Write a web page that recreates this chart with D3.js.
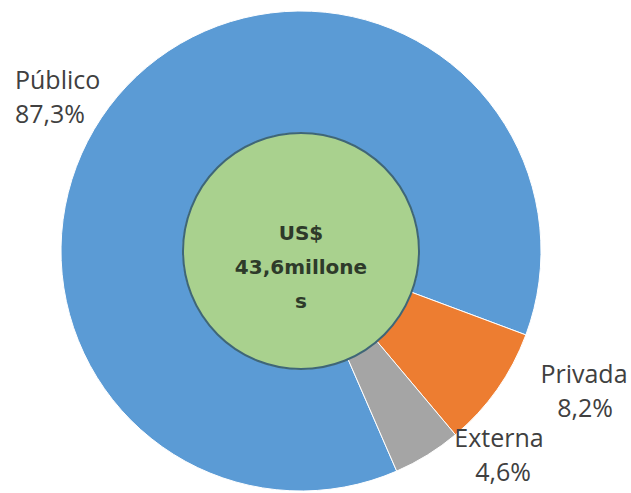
<!DOCTYPE html>
<html>
<head>
<meta charset="utf-8">
<script src="https://cdn.jsdelivr.net/npm/d3@7"></script>
<style>
  html, body { margin: 0; padding: 0; background: #ffffff; }
  svg { display: block; }
</style>
</head>
<body>
<svg id="chart" width="631" height="493"></svg>
<script>
// Financing sources (share of total, %)
const categories = ["Público", "Privada", "Externa"];
const shares = [87.3, 8.2, 4.6];
const colors = ["#5B9BD5", "#ED7D31", "#A5A5A5"];
const centerLines = ["US$", "43,6millone", "s"];

const width = 631, height = 493;
const cx = 301, cy = 251;
const outerR = 240, innerR = 118;
const startDeg = 156.5;

const svg = d3.select("#chart");
const g = svg.append("g").attr("transform", `translate(${cx},${cy})`);

const data = categories.map((c, i) => ({ name: c, value: shares[i], color: colors[i] }));

const pie = d3.pie()
  .value(d => d.value)
  .sort(null)
  .startAngle(startDeg * Math.PI / 180)
  .endAngle(startDeg * Math.PI / 180 + 2 * Math.PI);

const arc = d3.arc().innerRadius(innerR).outerRadius(outerR);

const arcs = pie(data);

g.selectAll("path.slice")
  .data(arcs)
  .join("path")
  .attr("class", "slice")
  .attr("d", arc)
  .attr("fill", d => d.data.color)
  .attr("stroke", "#ffffff")
  .attr("stroke-width", 1);

// Total in the hole
g.append("circle")
  .attr("r", innerR)
  .attr("fill", "#A9D18E")
  .attr("stroke", "#3F6677")
  .attr("stroke-width", 2);

const centerText = g.append("text")
  .attr("text-anchor", "middle")
  .attr("font-family", "DejaVu Sans, sans-serif")
  .attr("font-weight", "bold")
  .attr("font-size", 20)
  .attr("fill", "#2E3A2A");
centerLines.forEach((t, i) => {
  centerText.append("tspan").attr("x", 0).attr("y", -11 + i * 34).text(t);
});

// Slice labels: name on one line, share below
const fmt = v => v.toFixed(1).replace(".", ",") + "%";
const labelPos = [
  { dx: -286, dy: -162, anchor: "start", pctShift: 0 },
  { dx: 283, dy: 132, anchor: "middle", pctShift: 1 },
  { dx: 198, dy: 196, anchor: "middle", pctShift: 4 }
];

arcs.forEach((a, i) => {
  const p = labelPos[i];
  const t = g.append("text")
    .attr("text-anchor", p.anchor)
    .attr("font-family", "Open Sans, sans-serif")
    .attr("font-size", 25)
    .attr("fill", "#404040");
  t.append("tspan").attr("x", p.dx).attr("y", p.dy).text(a.data.name);
  t.append("tspan").attr("x", p.dx + p.pctShift).attr("y", p.dy + 34).text(fmt(a.data.value));
});
</script>
</body>
</html>
